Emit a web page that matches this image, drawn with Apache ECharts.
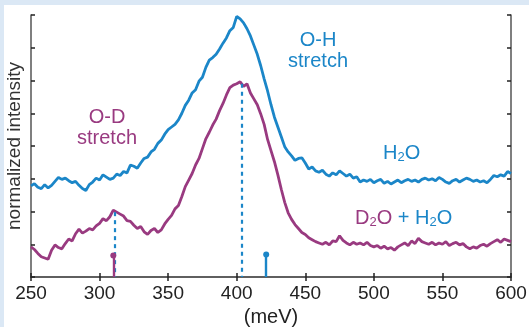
<!DOCTYPE html>
<html><head><meta charset="utf-8">
<script src="https://cdn.jsdelivr.net/npm/echarts@6/dist/echarts.min.js"></script>
<style>
html,body{margin:0;padding:0;width:529px;height:327px;background:#dbe8f5;overflow:hidden;}
#c{position:absolute;left:4px;top:5px;width:525px;height:322px;background:#fff;}
</style></head>
<body><div id="c"></div>
<script>
const energies = [250,252.5,255,257.5,260,262.5,265,267.5,270,272.5,275,277.5,280,282.5,285,287.5,290,292.5,295,297.5,
300,302.5,305,307.5,310,312.5,315,317.5,320,322.5,325,327.5,330,332.5,335,337.5,340,342.5,345,347.5,
350,352.5,355,357.5,360,362.5,365,367.5,370,372.5,375,377.5,380,382.5,385,387.5,390,392.5,395,397.5,
400,402.5,405,407.5,410,412.5,415,417.5,420,422.5,425,427.5,430,432.5,435,437.5,440,442.5,445,447.5,
450,452.5,455,457.5,460,462.5,465,467.5,470,472.5,475,477.5,480,482.5,485,487.5,490,492.5,495,497.5,
500,502.5,505,507.5,510,512.5,515,517.5,520,522.5,525,527.5,530,532.5,535,537.5,540,542.5,545,547.5,
550,552.5,555,557.5,560,562.5,565,567.5,570,572.5,575,577.5,580,582.5,585,587.5,590,592.5,595,597.5,600];

const h2o = [2.78,2.85,2.74,2.70,2.82,2.72,2.80,2.92,3.04,2.98,3.02,2.94,2.88,2.92,2.80,2.70,2.64,2.82,2.90,3.02,
2.96,3.12,3.05,2.98,3.02,3.14,3.10,3.22,3.18,3.42,3.38,3.32,3.48,3.62,3.66,3.82,3.90,4.08,4.18,4.36,
4.50,4.58,4.66,4.80,5.00,5.24,5.40,5.62,5.72,5.98,6.10,6.40,6.62,6.70,6.80,6.96,7.14,7.30,7.52,7.62,
7.96,7.88,7.76,7.58,7.36,7.08,6.80,6.45,6.05,5.68,5.26,4.88,4.58,4.28,3.98,3.82,3.70,3.56,3.62,3.64,
3.48,3.30,3.36,3.24,3.20,3.26,3.14,3.08,3.18,3.12,3.24,3.16,3.08,3.14,3.02,3.06,2.90,2.96,2.92,2.98,
2.88,2.94,2.98,2.86,2.92,2.84,2.90,2.96,2.88,2.94,2.98,2.92,2.96,2.90,2.98,3.02,2.96,3.00,2.94,3.04,
2.98,2.90,2.86,2.94,2.98,2.90,2.96,3.02,2.98,2.92,2.96,2.90,2.94,2.88,2.98,3.10,3.06,3.12,3.08,3.22,3.16];

const d2oH2o = [0.92,0.84,0.72,0.62,0.58,0.54,0.82,0.98,0.90,0.86,1.02,1.16,1.10,1.32,1.46,1.34,1.40,1.48,1.44,1.56,
1.64,1.78,1.72,1.84,2.04,1.98,1.92,1.86,1.72,1.70,1.58,1.48,1.54,1.38,1.30,1.42,1.48,1.36,1.44,1.62,
1.76,1.88,2.08,2.18,2.46,2.76,2.96,3.16,3.42,3.62,3.92,4.22,4.42,4.64,4.82,5.08,5.30,5.56,5.78,5.86,
5.90,5.96,5.82,5.90,5.62,5.44,5.26,4.98,4.66,4.20,3.86,3.52,3.12,2.68,2.28,1.96,1.76,1.60,1.48,1.36,
1.30,1.20,1.14,1.08,1.04,1.00,1.06,0.98,1.10,1.08,1.26,1.12,1.04,0.98,1.06,1.00,1.04,0.98,1.06,0.96,
0.92,0.96,0.88,0.94,0.86,0.90,0.82,0.92,0.98,1.04,0.96,1.10,1.02,1.18,1.08,1.04,1.00,1.06,0.98,1.04,
1.00,1.08,0.96,1.02,1.06,0.98,1.02,0.92,0.86,0.92,0.88,0.96,1.00,0.94,1.02,1.08,1.14,1.06,1.16,1.12,1.08];

// dotted peak markers [energy, top value]
const peakMarks = [[311, 1.98], [403.5, 5.9]];
// stems [energy, height]
const stemPurple = [310, 0.66];
const stemBlue = [421.5, 0.69];

const xTicks = [250,300,350,400,450,500,550,600];

const BLUE = '#1b86c8';
const PURPLE = '#993a80';
const AX = '#555';
const FONT = 'Liberation Sans, Arial, sans-serif';

const chart = echarts.init(document.getElementById('c'), null, {renderer:'canvas'});
const pairs = (ys) => energies.map((e,i)=>[e, ys[i]]);

const axisCommonY = {
  type:'value', min:0, max:8, interval:1,
  axisLine:{show:true, lineStyle:{color:AX, width:1.5}},
  axisTick:{show:true, inside:true, length:4, lineStyle:{color:'#222', width:1.5}},
  axisLabel:{show:false}, splitLine:{show:false}
};

chart.setOption({
  animation:false,
  grid:{left:27, right:18, top:10, bottom:50, outerBoundsMode:'none', containLabel:false},
  xAxis:[{
    type:'value', min:250, max:600, interval:50, position:'bottom',
    name:'(meV)', nameLocation:'middle', nameGap:28,
    nameTextStyle:{fontFamily:FONT, fontSize:20, color:'#222'},
    axisLine:{show:true, lineStyle:{color:AX, width:1.5}},
    axisTick:{show:true, inside:true, length:4, lineStyle:{color:'#222', width:1.5}},
    axisLabel:{fontFamily:FONT, fontSize:19, color:'#222', margin:7,
      formatter:(v)=> xTicks.includes(v) ? String(v) : ''},
    splitLine:{show:false}
  },{
    type:'value', min:250, max:600, interval:50, position:'top',
    axisLine:{show:true, lineStyle:{color:AX, width:1.5}},
    axisTick:{show:true, inside:true, length:4, lineStyle:{color:'#222', width:1.5}},
    axisLabel:{show:false}, splitLine:{show:false}
  }],
  yAxis:[Object.assign({}, axisCommonY, {position:'left',
    name:'normalized intensity', nameLocation:'middle', nameGap:7, nameRotate:90,
    nameTextStyle:{fontFamily:FONT, fontSize:19, color:'#333'}}),
    Object.assign({}, axisCommonY, {position:'right'})],
  series:[
    {type:'line', data:pairs(h2o), showSymbol:false, lineStyle:{color:BLUE, width:2.8}, z:3},
    {type:'line', data:pairs(d2oH2o), showSymbol:false, lineStyle:{color:PURPLE, width:2.8}, z:3,
     markLine:{silent:true, symbol:['none','none'], label:{show:false},
       lineStyle:{color:BLUE, width:2.2, type:[4,4]},
       data: peakMarks.map(p=>[{coord:[p[0],p[1]]},{coord:[p[0],0]}])}},
    {type:'line', data:[], markLine:{silent:true, symbol:['none','circle'], symbolSize:6, label:{show:false},
       data:[
         [{coord:[stemPurple[0],0], lineStyle:{color:PURPLE, width:2.4, type:'solid'}, itemStyle:{color:PURPLE}},
          {coord:[stemPurple[0],stemPurple[1]]}],
         [{coord:[stemBlue[0],0], lineStyle:{color:BLUE, width:2.4, type:'solid'}, itemStyle:{color:BLUE}},
          {coord:[stemBlue[0],stemBlue[1]]}]
       ]}}
  ],
  graphic:[
    {type:'text', x:314, y:45.5, style:{text:'O-H\nstretch', fill:BLUE, font:'20px '+FONT, align:'center', verticalAlign:'middle', lineHeight:21}},
    {type:'text', x:103, y:123, style:{text:'O-D\nstretch', fill:PURPLE, font:'20px '+FONT, align:'center', verticalAlign:'middle', lineHeight:21}},
    {type:'text', x:379, y:148, style:{verticalAlign:'middle', rich:{
       a:{fill:BLUE, fontSize:20, fontFamily:FONT},
       s:{fill:BLUE, fontSize:13, fontFamily:FONT, padding:[9,0,0,0]}},
       text:'{a|H}{s|2}{a|O}'}},
    {type:'text', x:351, y:213, style:{verticalAlign:'middle', rich:{
       a:{fill:PURPLE, fontSize:20, fontFamily:FONT},
       s:{fill:PURPLE, fontSize:13, fontFamily:FONT, padding:[9,0,0,0]},
       b:{fill:BLUE, fontSize:20, fontFamily:FONT},
       t:{fill:BLUE, fontSize:13, fontFamily:FONT, padding:[9,0,0,0]}},
       text:'{a|D}{s|2}{a|O}{b| + H}{t|2}{b|O}'}}
  ]
});
</script></body></html>
